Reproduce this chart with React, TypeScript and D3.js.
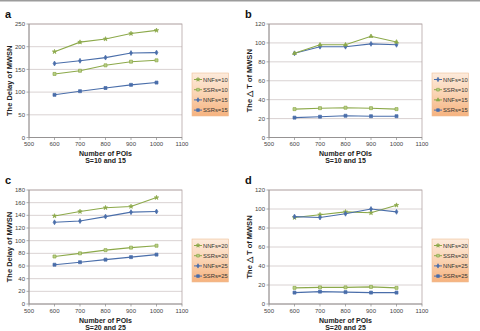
import React from "react";
import * as d3 from "d3";

// x values shared by every panel
const pois = [600, 700, 800, 900, 1000];
const xTicks = [500, 600, 700, 800, 900, 1000, 1100];

// (a) delay, S=10 and 15
const delayNNF10 = [189, 210, 217, 229, 236];
const delaySSR10 = [140, 147, 159, 167, 170];
const delayNNF15 = [163, 169, 176, 186, 187];
const delaySSR15 = [94, 102, 109, 116, 121];

// (b) delta T, S=10 and 15
const dtNNF10 = [89, 96, 96, 99, 98];
const dtSSR10 = [30, 31, 31.5, 31, 30];
const dtNNF15 = [89, 98, 98, 107, 101];
const dtSSR15 = [21, 22, 23, 22.5, 22.5];

// (c) delay, S=20 and 25
const delayNNF20 = [139, 146, 152, 154, 168];
const delaySSR20 = [75, 80, 85, 89, 92];
const delayNNF25 = [129, 131, 138, 145, 146];
const delaySSR25 = [62, 66, 70, 74, 78];

// (d) delta T, S=20 and 25
const dtNNF20 = [91, 94, 97, 96, 104];
const dtSSR20 = [17, 17.5, 17.5, 18, 17];
const dtNNF25 = [92, 91, 95, 100, 97];
const dtSSR25 = [12, 13, 12.5, 12, 12];

const GREEN = "#8CA94A";
const BLUE = "#4A6EAA";
const FONT = "'Liberation Sans', Arial, sans-serif";

type Marker = "star" | "diamond" | "square" | "triangle";
type Series = { name: string; values: number[]; color: string; marker: Marker };

const symbolFor = (m: Marker) =>
  m === "star" ? d3.symbolStar : m === "diamond" ? d3.symbolDiamond : m === "triangle" ? d3.symbolTriangle : d3.symbolSquare;

function MarkerShape({ x, y, s, scale = 1 }: { x: number; y: number; s: Series; scale?: number }) {
  const size = (s.marker === "square" ? 9 : s.marker === "star" ? 6 : 7) * scale;
  const path = d3.symbol().type(symbolFor(s.marker)).size(size)()!;
  const fill = s.marker === "square" && s.color === GREEN ? "#B9CF86" : s.color;
  return <path d={path} transform={`translate(${x},${y})`} fill={fill} stroke={s.color} strokeWidth={0.7} />;
}

function Panel(props: {
  ox: number; oy: number; letter: string; yMax: number; yStep: number;
  yTitle: string; subtitle: string; series: Series[]; top: number; bottom: number;
}) {
  const { ox, oy, letter, yMax, yStep, yTitle, subtitle, series, top, bottom } = props;
  const left = 29, right = 182;
  const x = d3.scaleLinear().domain([500, 1100]).range([left, right]);
  const y = d3.scaleLinear().domain([0, yMax]).range([bottom, top]);
  const yTicks = d3.range(0, yMax + 0.001, yStep);
  const line = d3.line<number>().x((_, i) => x(pois[i])).y((v) => y(v));
  const gradId = `legendFill-${letter}`;
  const legTop = top + 49;

  return (
    <g transform={`translate(${ox},${oy})`} fontFamily={FONT}>
      <defs>
        <linearGradient id={gradId} x1="0" y1="0" x2="0" y2="1">
          <stop offset="0" stopColor="#FDEBDC" />
          <stop offset="0.5" stopColor="#FAD3B2" />
          <stop offset="1" stopColor="#F6B27E" />
        </linearGradient>
      </defs>
      <text x={5} y={top - 6.5} fontSize={11} fontWeight="bold" fill="#111">{letter}</text>

      {yTicks.map((t) => (
        <g key={t}>
          {t > 0 && <line x1={left} x2={right} y1={y(t)} y2={y(t)} stroke="#CFC6C6" strokeWidth={0.8} />}
          <line x1={left - 2.5} x2={left} y1={y(t)} y2={y(t)} stroke="#8A8A8A" strokeWidth={0.7} />
          <text x={left - 4} y={y(t)} dy="0.35em" textAnchor="end" fontSize={6} fill="#444">{t}</text>
        </g>
      ))}
      <rect x={left} y={top} width={right - left} height={bottom - top} fill="none" stroke="#B3A5A5" strokeWidth={0.8} />
      <line x1={left} x2={left} y1={top} y2={bottom} stroke="#8A8A8A" strokeWidth={0.8} />
      <line x1={left} x2={right} y1={bottom} y2={bottom} stroke="#8A8A8A" strokeWidth={0.8} />
      {xTicks.map((t) => (
        <g key={t}>
          <line x1={x(t)} x2={x(t)} y1={bottom} y2={bottom + 2.5} stroke="#8A8A8A" strokeWidth={0.7} />
          <text x={x(t)} y={bottom + 8.5} textAnchor="middle" fontSize={6} fill="#444">{t}</text>
        </g>
      ))}

      {series.map((s) => (
        <g key={s.name}>
          <path d={line(s.values)!} fill="none" stroke={s.color} strokeWidth={1.1} />
          {s.values.map((v, i) => (
            <MarkerShape key={i} x={x(pois[i])} y={y(v)} s={s} />
          ))}
        </g>
      ))}

      <text x={(left + right) / 2} y={bottom + 18.5} textAnchor="middle" fontSize={7} fontWeight="bold" fill="#222">Number of POIs</text>
      <text x={(left + right) / 2} y={bottom + 25.5} textAnchor="middle" fontSize={7} fontWeight="bold" fill="#222">{subtitle}</text>
      <text transform={`translate(11.5,${(top + bottom) / 2}) rotate(-90)`} textAnchor="middle" fontSize={7.5} fontWeight="bold" fill="#222">{yTitle}</text>

      <rect x={192} y={legTop} width={36.5} height={43} fill={`url(#${gradId})`} stroke="#EDBF98" strokeWidth={0.6} />
      {series.map((s, i) => {
        const ly = legTop + 6.5 + i * 10.2;
        return (
          <g key={s.name}>
            <line x1={194} x2={202} y1={ly} y2={ly} stroke={s.color} strokeWidth={1} />
            <MarkerShape x={198} y={ly} s={s} scale={0.8} />
            <text x={203} y={ly} dy="0.35em" fontSize={5.8} fill="#333">{s.name}</text>
          </g>
        );
      })}
    </g>
  );
}

export default function App() {
  const seriesA: Series[] = [
    { name: "NNFs=10", values: delayNNF10, color: GREEN, marker: "star" },
    { name: "SSRs=10", values: delaySSR10, color: GREEN, marker: "square" },
    { name: "NNFs=15", values: delayNNF15, color: BLUE, marker: "diamond" },
    { name: "SSRs=15", values: delaySSR15, color: BLUE, marker: "square" },
  ];
  const seriesB: Series[] = [
    { name: "NNFs=10", values: dtNNF10, color: BLUE, marker: "diamond" },
    { name: "SSRs=10", values: dtSSR10, color: GREEN, marker: "square" },
    { name: "NNFs=15", values: dtNNF15, color: GREEN, marker: "triangle" },
    { name: "SSRs=15", values: dtSSR15, color: BLUE, marker: "square" },
  ];
  const seriesC: Series[] = [
    { name: "NNFs=20", values: delayNNF20, color: GREEN, marker: "star" },
    { name: "SSRs=20", values: delaySSR20, color: GREEN, marker: "square" },
    { name: "NNFs=25", values: delayNNF25, color: BLUE, marker: "diamond" },
    { name: "SSRs=25", values: delaySSR25, color: BLUE, marker: "square" },
  ];
  const seriesD: Series[] = [
    { name: "NNFs=20", values: dtNNF20, color: GREEN, marker: "star" },
    { name: "SSRs=20", values: dtSSR20, color: GREEN, marker: "square" },
    { name: "NNFs=25", values: dtNNF25, color: BLUE, marker: "diamond" },
    { name: "SSRs=25", values: dtSSR25, color: BLUE, marker: "square" },
  ];

  return (
    <svg width={480} height={331} style={{ position: "absolute", left: 0, top: 0, background: "#fff" }}>
      <rect x={0} y={0} width={480} height={1.5} fill="#9C9C9C" />
      <Panel ox={0} oy={0} letter="a" yMax={250} yStep={50} yTitle="The Delay of MWSN" subtitle="S=10 and 15" series={seriesA} top={24} bottom={137.5} />
      <Panel ox={240} oy={0} letter="b" yMax={120} yStep={20} yTitle="The △ T of MWSN" subtitle="S=10 and 15" series={seriesB} top={24} bottom={137.5} />
      <Panel ox={0} oy={165} letter="c" yMax={180} yStep={20} yTitle="The Delay of MWSN" subtitle="S=20 and 25" series={seriesC} top={25} bottom={139} />
      <Panel ox={240} oy={165} letter="d" yMax={120} yStep={20} yTitle="The △ T of MWSN" subtitle="S=20 and 25" series={seriesD} top={25} bottom={139} />
    </svg>
  );
}
